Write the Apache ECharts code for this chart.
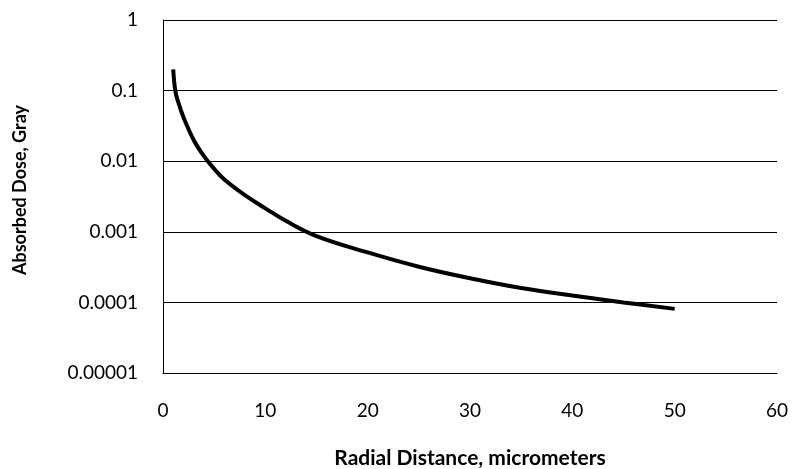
<!DOCTYPE html>
<html>
<head>
<meta charset="utf-8">
<script src="https://cdn.jsdelivr.net/npm/echarts@6/dist/echarts.min.js"></script>
<style>
  html, body { margin: 0; padding: 0; background: #fff; }
  #chart { width: 793px; height: 469px; }
</style>
</head>
<body>
<div id="chart"></div>
<script>
// radial distance (micrometers) and absorbed dose (Gray)
var distance = [1, 1.2, 1.5, 2, 3, 4, 5, 6, 8, 10, 12, 15, 20, 25, 30, 35, 40, 45, 50];
var dose = [0.2, 0.1, 0.068, 0.042, 0.02, 0.0118, 0.0078, 0.0055, 0.0033, 0.00215, 0.00143, 0.00087, 0.00051, 0.00032, 0.00022, 0.00016, 0.000125, 0.0001, 0.000081];
var xTicks = [0, 10, 20, 30, 40, 50, 60];

var points = distance.map(function (d, i) { return [d, dose[i]]; });

var chart = echarts.init(document.getElementById('chart'));
chart.setOption({
    animation: false,
    textStyle: { fontFamily: 'Lato' },
    grid: { left: 163, right: 16, top: 20, bottom: 96, outerBoundsMode: 'none' },
    xAxis: {
        type: 'value',
        min: xTicks[0],
        max: xTicks[xTicks.length - 1],
        interval: 10,
        name: 'Radial Distance, micrometers',
        nameLocation: 'middle',
        nameGap: 75,
        nameTextStyle: { fontSize: 21, fontWeight: 'bold', color: '#000' },
        axisLine: { lineStyle: { color: '#000', width: 1 } },
        axisTick: { show: false },
        axisLabel: { fontSize: 19, color: '#000', margin: 28 },
        splitLine: { show: false }
    },
    yAxis: {
        type: 'log',
        logBase: 10,
        min: 0.00001,
        max: 1,
        name: 'Absorbed Dose, Gray',
        nameLocation: 'middle',
        nameGap: 134,
        nameTextStyle: { fontSize: 18, fontWeight: 'bold', color: '#000', padding: [0, 0, 0, 13] },
        axisLine: { show: true, lineStyle: { color: '#000', width: 1 } },
        axisTick: { show: false },
        axisLabel: {
            fontSize: 19,
            color: '#000',
            margin: 25,
            formatter: function (v) {
                if (v >= 1) return '1';
                var digits = Math.round(-Math.log10(v));
                return v.toFixed(digits);
            }
        },
        splitLine: { show: true, lineStyle: { color: '#000', width: 1 } }
    },
    series: [{
        type: 'line',
        data: points,
        smooth: 0.4,
        symbol: 'none',
        lineStyle: { color: '#000', width: 4 }
    }]
});
</script>
</body>
</html>
